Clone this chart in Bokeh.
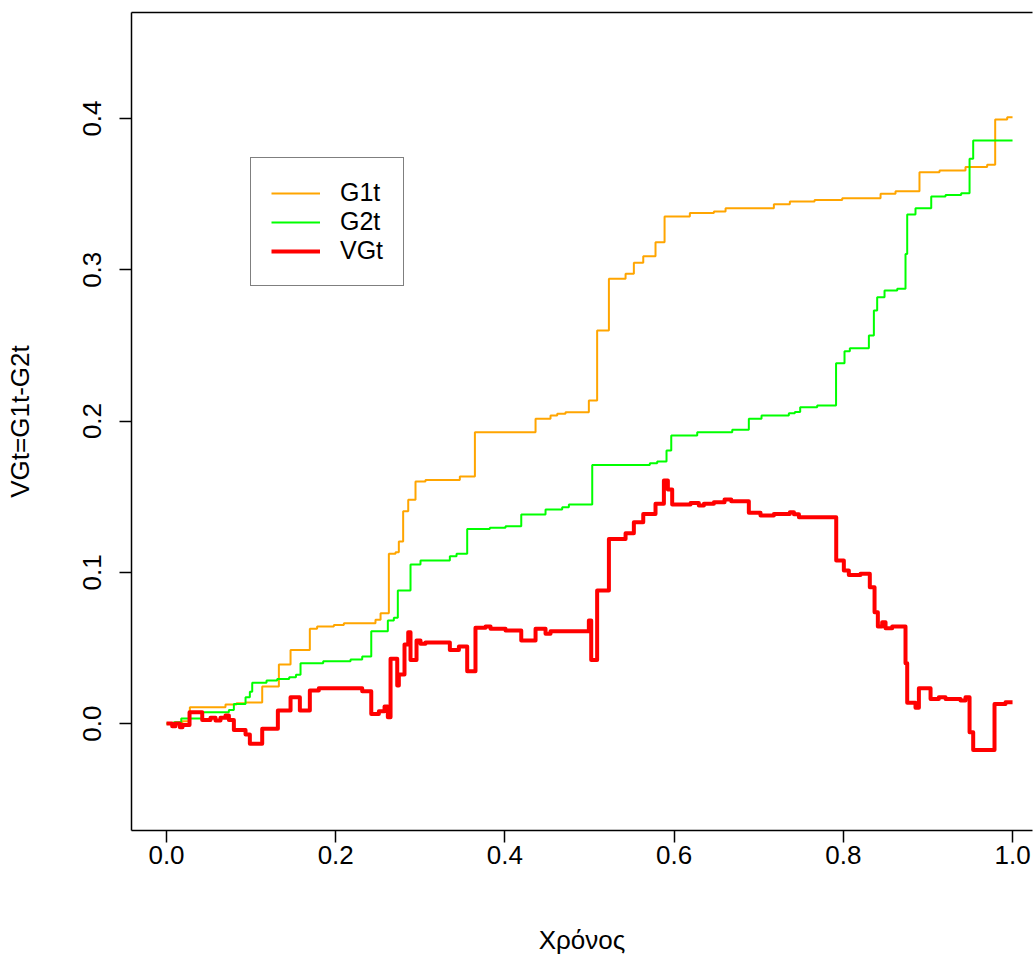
from bokeh.plotting import figure
from bokeh.models import FixedTicker, LinearAxis, Range1d, Legend, LegendItem, PrintfTickFormatter
from bokeh.embed import file_html
from bokeh.resources import INLINE

# ---- data ----
g1_x = [0.0, 0.0186, 0.0276, 0.0697, 0.0827, 0.0934, 0.1131, 0.1328, 0.1466, 0.1694, 0.1780,
        0.1978, 0.2096, 0.2470, 0.2530, 0.2628, 0.2707, 0.2746, 0.2797, 0.2857, 0.2943, 0.3061,
        0.3467, 0.3645, 0.4362, 0.4539, 0.4618, 0.4716, 0.4992, 0.5090, 0.5229, 0.5426, 0.5524,
        0.5635, 0.5780, 0.5887, 0.6186, 0.6470, 0.6608, 0.7179, 0.7368, 0.7660, 0.7987, 0.8440,
        0.8617, 0.8900, 0.9137, 0.9444, 0.9700, 0.9795, 0.9937, 1.0]
g1_y = [0.0, 0.0015, 0.0108, 0.0126, 0.0134, 0.0140, 0.0245, 0.0390, 0.0487, 0.0626, 0.0641,
        0.0652, 0.0663, 0.0686, 0.0729, 0.1122, 0.1133, 0.1203, 0.1404, 0.1479, 0.1600, 0.1611,
        0.1633, 0.1926, 0.2015, 0.2036, 0.2048, 0.2058, 0.2136, 0.2598, 0.2940, 0.2973, 0.3046,
        0.3090, 0.3182, 0.3352, 0.3376, 0.3385, 0.3407, 0.3433, 0.3451, 0.3462, 0.3473, 0.3502,
        0.3519, 0.3645, 0.3656, 0.3680, 0.3694, 0.3993, 0.4009, 0.4009]

g2_x = [0.0, 0.0087, 0.0174, 0.0422, 0.0737, 0.0796, 0.0934, 0.0985, 0.1013, 0.1182, 0.1308,
        0.1450, 0.1530, 0.1584, 0.1852, 0.2175, 0.2313, 0.2420, 0.2616, 0.2687, 0.2734, 0.2884,
        0.3002, 0.3349, 0.3428, 0.3554, 0.3822, 0.4007, 0.4193, 0.4480, 0.4677, 0.4756, 0.5032,
        0.5713, 0.5800, 0.5910, 0.5966, 0.6273, 0.6687, 0.6883, 0.7033, 0.7356, 0.7427, 0.7490,
        0.7691, 0.7914, 0.8014, 0.8077, 0.8302, 0.8361, 0.8400, 0.8487, 0.8637, 0.8735, 0.8755,
        0.8853, 0.9039, 0.9208, 0.9393, 0.9492, 0.9535, 1.0]
g2_y = [0.0, 0.0009, 0.0033, 0.0075, 0.0090, 0.0130, 0.0174, 0.0210, 0.0269, 0.0284, 0.0295,
        0.0306, 0.0322, 0.0399, 0.0412, 0.0423, 0.0443, 0.0610, 0.0681, 0.0699, 0.0879, 0.1051,
        0.1078, 0.1106, 0.1122, 0.1287, 0.1294, 0.1305, 0.1382, 0.1415, 0.1430, 0.1448, 0.1710,
        0.1721, 0.1732, 0.1805, 0.1904, 0.1926, 0.1942, 0.2015, 0.2036, 0.2051, 0.2060, 0.2091,
        0.2102, 0.2382, 0.2462, 0.2481, 0.2565, 0.2731, 0.2819, 0.2863, 0.2874, 0.3105, 0.3365,
        0.3407, 0.3484, 0.3495, 0.3506, 0.3734, 0.3855, 0.3855]

vg_x = [0.0, 0.0067, 0.0106, 0.0158, 0.0189, 0.0272, 0.0422, 0.0520, 0.0579, 0.0638, 0.0697,
        0.0737, 0.0796, 0.0934, 0.0985, 0.1131, 0.1316, 0.1466, 0.1576, 0.1694, 0.1800, 0.2313,
        0.2420, 0.2510, 0.2577, 0.2616, 0.2648, 0.2727, 0.2746, 0.2813, 0.2857, 0.2884, 0.2955,
        0.3002, 0.3061, 0.3349, 0.3456, 0.3554, 0.3652, 0.3771, 0.3830, 0.4007, 0.4193, 0.4362,
        0.4480, 0.4539, 0.4992, 0.5020, 0.5090, 0.5229, 0.5426, 0.5524, 0.5635, 0.5780, 0.5879,
        0.5926, 0.5977, 0.6194, 0.6292, 0.6352, 0.6470, 0.6596, 0.6675, 0.6883, 0.7021, 0.7179,
        0.7368, 0.7416, 0.7475, 0.7916, 0.8006, 0.8065, 0.8203, 0.8313, 0.8369, 0.8408, 0.8459,
        0.8499, 0.8578, 0.8735, 0.8755, 0.8853, 0.8893, 0.9031, 0.9129, 0.9208, 0.9385, 0.9444,
        0.9492, 0.9535, 0.9787, 0.9917, 1.0]
vg_y = [0.0, -0.0018, 0.0, -0.0024, -0.0009, 0.0075, 0.0024, 0.0038, 0.0020, 0.0038, 0.0053,
        0.0024, -0.0042, -0.0073, -0.0134, -0.0035, 0.0086, 0.0174, 0.0086, 0.0218, 0.0234, 0.0214,
        0.0064, 0.0081, 0.0112, 0.0042, 0.0428, 0.0251, 0.0324, 0.0522, 0.0604, 0.0421, 0.0549,
        0.0527, 0.0536, 0.0487, 0.0509, 0.0346, 0.0633, 0.0641, 0.0626, 0.0615, 0.0549, 0.0626,
        0.0593, 0.0610, 0.0681, 0.0421, 0.0879, 0.1221, 0.1258, 0.1331, 0.1386, 0.1453, 0.1607,
        0.1547, 0.1448, 0.1459, 0.1441, 0.1453, 0.1463, 0.1481, 0.1470, 0.1393, 0.1375, 0.1386,
        0.1397, 0.1384, 0.1364, 0.1078, 0.1012, 0.0983, 0.0990, 0.0901, 0.0736, 0.0641, 0.0670,
        0.0630, 0.0641, 0.0399, 0.0137, 0.0104, 0.0234, 0.0163, 0.0174, 0.0163, 0.0152, 0.0174,
        -0.0057, -0.0174, 0.0130, 0.0141, 0.0141]

x_ticks = [0.0, 0.2, 0.4, 0.6, 0.8, 1.0]
y_ticks = [0.0, 0.1, 0.2, 0.3, 0.4]
series_names = ["G1t", "G2t", "VGt"]
series_colors = ["#FFA500", "#00FF00", "#FF0000"]
x_title = "Χρόνος"
y_title = "VGt=G1t-G2t"

FONT = "Liberation Sans"

p = figure(width=1033, height=958, output_backend="svg", toolbar_location=None,
           x_range=Range1d(-0.0414, 1.0236), y_range=Range1d(-0.0707, 0.4701),
           min_border_left=131, min_border_top=12, min_border_right=1, min_border_bottom=128,
           x_axis_label=x_title, y_axis_label=y_title)
p.outline_line_color = None
p.grid.visible = False
p.background_fill_color = "white"
p.border_fill_color = "white"

for ax, ticks in ((p.xaxis[0], x_ticks), (p.yaxis[0], y_ticks)):
    ax.ticker = FixedTicker(ticks=ticks)
    ax.formatter = PrintfTickFormatter(format="%.1f")
    ax.minor_tick_line_color = None
    ax.major_tick_out = 12
    ax.major_tick_in = 0
    ax.axis_line_color = "black"
    ax.axis_line_width = 1.5
    ax.major_tick_line_color = "black"
    ax.major_tick_line_width = 1.5
    ax.major_label_text_font = FONT
    ax.major_label_text_font_size = "26px"
    ax.major_label_text_color = "black"
    ax.axis_label_text_font = FONT
    ax.axis_label_text_font_size = "26px"
    ax.axis_label_text_font_style = "normal"
    ax.axis_label_text_color = "black"

p.xaxis[0].major_label_standoff = 3
p.xaxis[0].axis_label_standoff = 58
p.yaxis[0].major_label_orientation = "vertical"
p.yaxis[0].major_label_standoff = 18
p.yaxis[0].axis_label_standoff = 46

top = LinearAxis(ticker=FixedTicker(ticks=[]), major_label_text_font_size="0px",
                 axis_line_color="black", axis_line_width=1.5,
                 major_tick_line_color=None, minor_tick_line_color=None,
                 major_label_standoff=0, axis_label_standoff=0)
p.add_layout(top, "above")

r1 = p.step(g1_x, g1_y, mode="after", line_color=series_colors[0], line_width=2)
r2 = p.step(g2_x, g2_y, mode="after", line_color=series_colors[1], line_width=2)
r3 = p.step(vg_x, vg_y, mode="after", line_color=series_colors[2], line_width=4, line_join="round")

legend = Legend(items=[LegendItem(label=series_names[0], renderers=[r1]),
                       LegendItem(label=series_names[1], renderers=[r2]),
                       LegendItem(label=series_names[2], renderers=[r3])],
                location=(119, 544), padding=20, spacing=0, label_height=28, glyph_height=28,
                glyph_width=49, label_standoff=20, margin=0,
                border_line_color="black", border_line_width=1.5,
                background_fill_color="white", background_fill_alpha=1.0,
                label_text_font=FONT, label_text_font_size="25px", label_text_color="black")
p.add_layout(legend)

open("out.html", "w").write(file_html(p, INLINE))
